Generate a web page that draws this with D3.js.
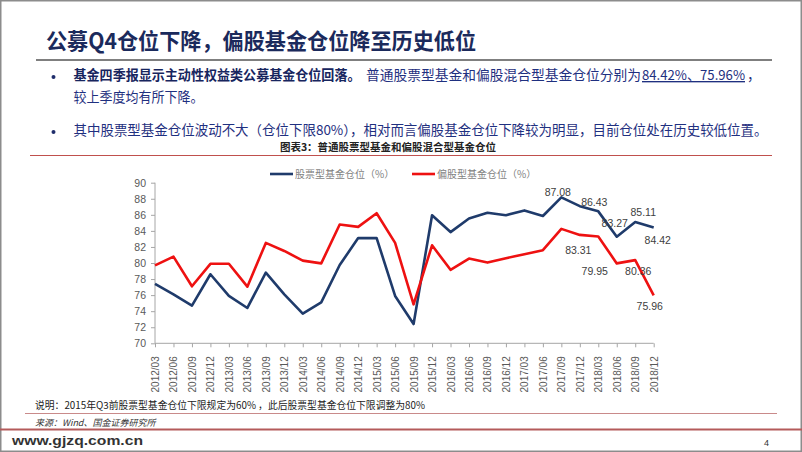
<!DOCTYPE html>
<html>
<head>
<meta charset="utf-8">
<script src="https://d3js.org/d3.v7.min.js"></script>
<style>
  body { margin: 0; background: #fff; }
  svg { display: block; }
  .cjk { font-family: "Noto Sans CJK SC", sans-serif; }
  .num { font-family: "Liberation Sans", Arial, sans-serif; }
  .axis path, .axis line { stroke: #a6a6a6; }
  .axis text { fill: #595959; font-family: "Liberation Sans", Arial, sans-serif; }
</style>
</head>
<body>
<div id="chart"></div>
<script>
// quarters on the x axis
var quarters = ["2012/03","2012/06","2012/09","2012/12","2013/03","2013/06","2013/09","2013/12",
  "2014/03","2014/06","2014/09","2014/12","2015/03","2015/06","2015/09","2015/12",
  "2016/03","2016/06","2016/09","2016/12","2017/03","2017/06","2017/09","2017/12",
  "2018/03","2018/06","2018/09","2018/12"];

// 股票型基金仓位（%）
var stockFund = [77.4, 76.1, 74.7, 78.6, 75.9, 74.4, 78.8, 76.1, 73.7, 75.1, 79.75, 83.1, 83.1, 75.9,
  72.4, 85.95, 83.85, 85.55, 86.25, 85.95, 86.55, 85.85, 88.18, 87.08, 86.43, 83.27, 85.11, 84.42];

// 偏股型基金仓位（%）
var mixedFund = [79.7, 80.8, 77.1, 79.9, 79.9, 77.05, 82.5, 81.5, 80.3, 79.95, 84.8, 84.5, 86.2, 82.5,
  74.85, 82.2, 79.15, 80.55, 80.05, 80.6, 81.1, 81.6, 84.25, 83.5, 83.31, 79.95, 80.36, 75.96];

var yTicks = [70, 72, 74, 76, 78, 80, 82, 84, 86, 88, 90];

// which points carry a data label
var stockLabelIdx = [23, 24, 25, 26, 27];
var mixedLabelIdx = [24, 25, 26, 27];

var seriesNames = ["股票型基金仓位（%）", "偏股型基金仓位（%）"];
var seriesColors = ["#1f3b6b", "#ee1111"];

// label nudges (label centre relative to the point), like the hand placed excel labels
var stockNudge = [[-22, -14], [-4, -9], [-2, -13], [8, -10], [4, 13]];
var mixedNudge = [[-20, 14], [-22, 8], [3, 11], [-4, 11]];

var svgWidth = 802, svgHeight = 452;

var svg = d3.select("#chart")
  .append("svg")
  .attr("width", svgWidth)
  .attr("height", svgHeight);

// page frame
svg.append("rect")
  .attr("x", 0.75).attr("y", 0.75)
  .attr("width", svgWidth - 1.5).attr("height", svgHeight - 1.5)
  .attr("fill", "none")
  .attr("stroke", "#8c8c8c")
  .attr("stroke-width", 1.5);

// ******** header ********
svg.append("text")
  .attr("class", "cjk")
  .attr("x", 46).attr("y", 49)
  .attr("font-size", 22).attr("font-weight", "bold")
  .attr("fill", "#1b2a5c")
  .attr("textLength", 430).attr("lengthAdjust", "spacingAndGlyphs")
  .text("公募Q4仓位下降，偏股基金仓位降至历史低位");

svg.append("line")
  .attr("x1", 36).attr("x2", 772).attr("y1", 60).attr("y2", 60)
  .attr("stroke", "#7f7f7f").attr("stroke-width", 2);

// bullets
[77, 132].forEach(function(cy) {
  svg.append("circle").attr("cx", 53.5).attr("cy", cy).attr("r", 2).attr("fill", "#1f2d6b");
});

var line1 = svg.append("text")
  .attr("class", "cjk")
  .attr("y", 80)
  .attr("font-size", 13.5)
  .attr("fill", "#1f3080");

line1.append("tspan")
  .attr("x", 73.5)
  .attr("font-weight", "bold")
  .attr("fill", "#17255e")
  .attr("textLength", 287).attr("lengthAdjust", "spacingAndGlyphs")
  .text("基金四季报显示主动性权益类公募基金仓位回落。");
line1.append("tspan")
  .attr("x", 366)
  .attr("textLength", 275).attr("lengthAdjust", "spacingAndGlyphs")
  .text("普通股票型基金和偏股混合型基金仓位分别为");
line1.append("tspan")
  .attr("x", 642)
  .attr("textLength", 103).attr("lengthAdjust", "spacingAndGlyphs")
  .style("text-decoration", "underline")
  .text("84.42%、75.96%");

// trailing comma kept apart from the underlined part
svg.append("text")
  .attr("class", "cjk")
  .attr("x", 747).attr("y", 80)
  .attr("font-size", 13.5)
  .attr("fill", "#1f3080")
  .text("，");

svg.append("text")
  .attr("class", "cjk")
  .attr("x", 73.5).attr("y", 102)
  .attr("font-size", 13.5)
  .attr("fill", "#1f3080")
  .attr("textLength", 130).attr("lengthAdjust", "spacingAndGlyphs")
  .text("较上季度均有所下降。");

svg.append("text")
  .attr("class", "cjk")
  .attr("x", 73.5).attr("y", 135)
  .attr("font-size", 13.5)
  .attr("fill", "#1f3080")
  .attr("textLength", 694).attr("lengthAdjust", "spacingAndGlyphs")
  .text("其中股票型基金仓位波动不大（仓位下限80%），相对而言偏股基金仓位下降较为明显，目前仓位处在历史较低位置。");

// chart caption
svg.append("text")
  .attr("class", "cjk")
  .attr("x", 388).attr("y", 151)
  .attr("text-anchor", "middle")
  .attr("font-size", 10.5).attr("font-weight", "bold")
  .attr("fill", "#222")
  .text("图表3：普通股票型基金和偏股混合型基金仓位");

svg.append("line")
  .attr("x1", 30).attr("x2", 772).attr("y1", 155.5).attr("y2", 155.5)
  .attr("stroke", "#c0504d").attr("stroke-width", 1);

// ******** chart ********
var xScale = d3.scalePoint()
  .domain(quarters)
  .range([155, 653.7]);

var yScale = d3.scaleLinear()
  .domain([70, 90])
  .range([343.3, 182.7]);

var leftAxis = d3.axisLeft(yScale)
  .tickValues(yTicks)
  .tickSize(4)
  .tickFormat(d3.format("d"));

var bottomAxis = d3.axisBottom(xScale)
  .tickSize(4);

var yAxis = svg.append("g")
  .attr("class", "axis")
  .attr("transform", "translate(155,0)")
  .call(leftAxis);
yAxis.select(".domain").attr("d", "M0," + yScale(70) + "V" + yScale(90));
yAxis.selectAll("text").attr("font-size", 10.5).attr("x", -9);

var xAxis = svg.append("g")
  .attr("class", "axis")
  .attr("transform", "translate(0," + yScale(70) + ")")
  .call(bottomAxis);
xAxis.select(".domain").attr("d", "M155,0H653.7");
xAxis.selectAll("text")
  .attr("font-size", 10)
  .attr("transform", "rotate(-90)")
  .attr("text-anchor", "end")
  .attr("x", -13)
  .attr("y", 0)
  .attr("dy", "0.35em");

var lineGen = d3.line()
  .x(function(d, i) { return xScale(quarters[i]); })
  .y(function(d) { return yScale(d); });

var allSeries = [stockFund, mixedFund];

svg.selectAll(".series")
  .data(allSeries)
  .enter()
  .append("path")
  .attr("class", "series")
  .attr("d", function(d) { return lineGen(d); })
  .attr("fill", "none")
  .attr("stroke", function(d, i) { return seriesColors[i]; })
  .attr("stroke-width", 2.6)
  .attr("stroke-linejoin", "round");

// data labels
function addLabels(values, idx, nudge) {
  idx.forEach(function(k, j) {
    svg.append("text")
      .attr("class", "num")
      .attr("x", xScale(quarters[k]) + nudge[j][0])
      .attr("y", yScale(values[k]) + nudge[j][1])
      .attr("dy", "0.35em")
      .attr("text-anchor", "middle")
      .attr("font-size", 10.5)
      .attr("fill", "#404040")
      .text(d3.format(".2f")(values[k]));
  });
}
addLabels(stockFund, stockLabelIdx, stockNudge);
addLabels(mixedFund, mixedLabelIdx, mixedNudge);

// legend
var legendX = [270, 412];
seriesNames.forEach(function(name, i) {
  svg.append("line")
    .attr("x1", legendX[i]).attr("x2", legendX[i] + 23)
    .attr("y1", 174).attr("y2", 174)
    .attr("stroke", seriesColors[i]).attr("stroke-width", 2.6);
  svg.append("text")
    .attr("class", "cjk")
    .attr("x", legendX[i] + 25).attr("y", 177.5)
    .attr("font-size", 10)
    .attr("fill", "#7f7f7f")
    .text(name);
});

// ******** footer ********
svg.append("text")
  .attr("class", "cjk")
  .attr("x", 35).attr("y", 409)
  .attr("font-size", 9.8)
  .attr("fill", "#222")
  .text("说明：2015年Q3前股票型基金仓位下限规定为60% ，此后股票型基金仓位下限调整为80%");

svg.append("line")
  .attr("x1", 25).attr("x2", 777).attr("y1", 413.5).attr("y2", 413.5)
  .attr("stroke", "#c98a8a").attr("stroke-width", 1.2);

svg.append("text")
  .attr("class", "cjk")
  .attr("x", 35).attr("y", 426)
  .attr("font-size", 9)
  .attr("font-style", "italic")
  .attr("fill", "#333")
  .text("来源：Wind、国金证券研究所");

svg.append("line")
  .attr("x1", 0).attr("x2", svgWidth).attr("y1", 429.5).attr("y2", 429.5)
  .attr("stroke", "#b45a5a").attr("stroke-width", 2);

svg.append("text")
  .attr("class", "num")
  .attr("x", 12).attr("y", 445)
  .attr("font-size", 13).attr("font-weight", "bold")
  .attr("fill", "#333")
  .attr("textLength", 131).attr("lengthAdjust", "spacingAndGlyphs")
  .text("www.gjzq.com.cn");

svg.append("text")
  .attr("class", "num")
  .attr("x", 764).attr("y", 446)
  .attr("font-size", 9)
  .attr("fill", "#333")
  .text("4");
</script>
</body>
</html>
